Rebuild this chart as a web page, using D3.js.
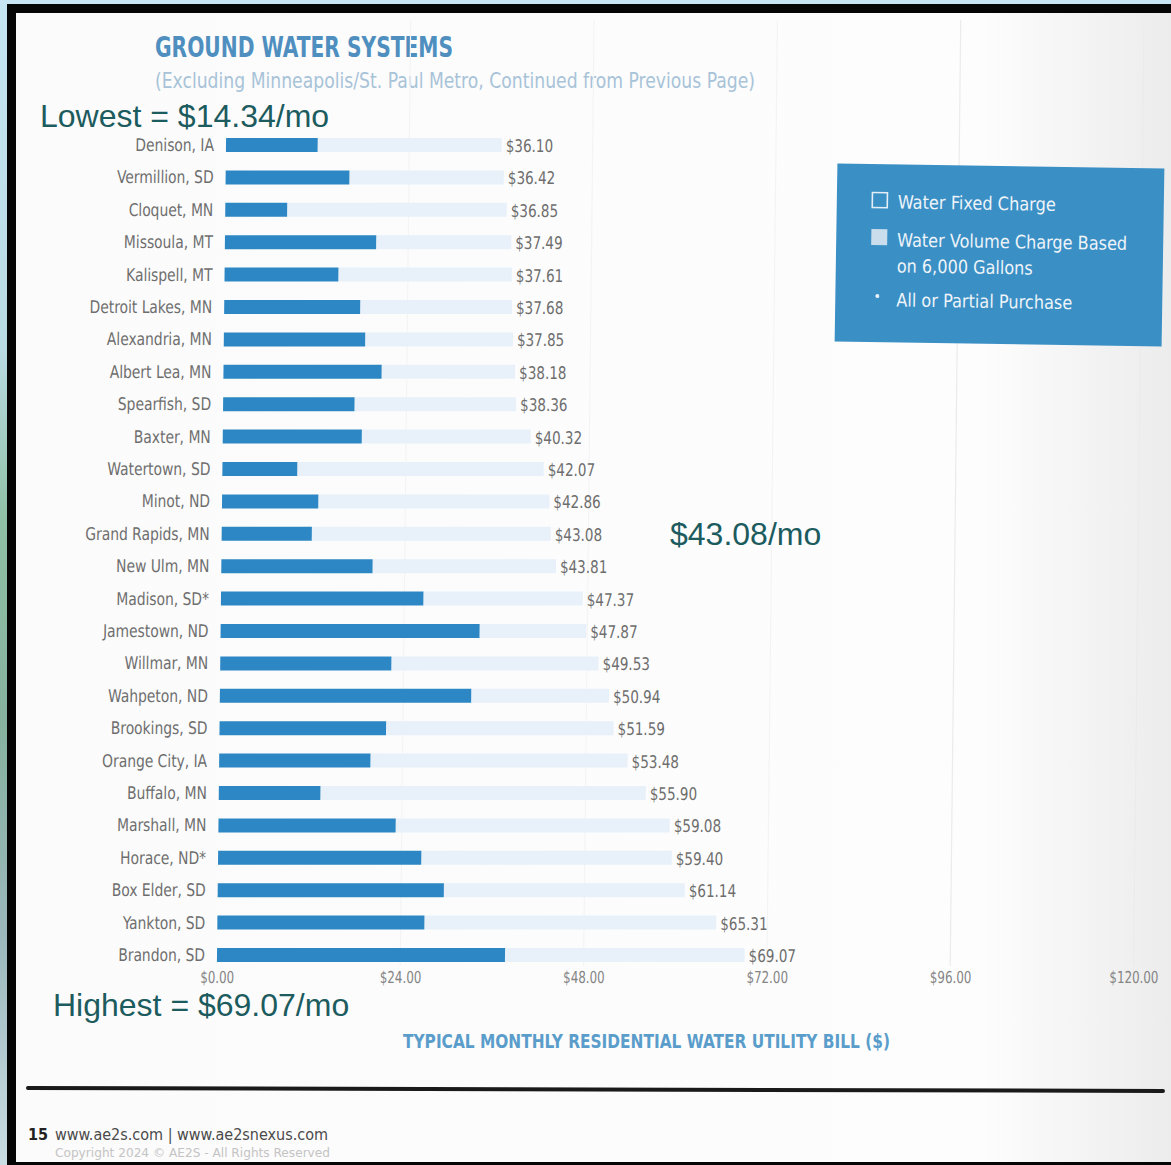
<!DOCTYPE html>
<html>
<head>
<meta charset="utf-8">
<script src="https://cdn.jsdelivr.net/npm/d3@7"></script>
<style>
  html, body { margin: 0; padding: 0; background: #ffffff; }
  svg { display: block; }
</style>
</head>
<body>
<svg id="chart" width="1171" height="1165"></svg>
<script>
// ---- data ---------------------------------------------------------------
const cities = [
  "Denison, IA", "Vermillion, SD", "Cloquet, MN", "Missoula, MT", "Kalispell, MT",
  "Detroit Lakes, MN", "Alexandria, MN", "Albert Lea, MN", "Spearfish, SD", "Baxter, MN",
  "Watertown, SD", "Minot, ND", "Grand Rapids, MN", "New Ulm, MN", "Madison, SD*",
  "Jamestown, ND", "Willmar, MN", "Wahpeton, ND", "Brookings, SD", "Orange City, IA",
  "Buffalo, MN", "Marshall, MN", "Horace, ND*", "Box Elder, SD", "Yankton, SD", "Brandon, SD"
];
// typical monthly bill (fixed + volume charge), $
const totalBill = [
  36.10, 36.42, 36.85, 37.49, 37.61, 37.68, 37.85, 38.18, 38.36, 40.32,
  42.07, 42.86, 43.08, 43.81, 47.37, 47.87, 49.53, 50.94, 51.59, 53.48,
  55.90, 59.08, 59.40, 61.14, 65.31, 69.07
];
// water fixed charge portion, $
const fixedCharge = [
  12.0, 16.2, 8.1, 19.8, 14.9, 17.8, 18.5, 20.7, 17.2, 18.2,
  9.8, 12.6, 11.8, 19.8, 26.5, 33.9, 22.4, 32.9, 21.8, 19.8,
  13.3, 23.2, 26.6, 29.6, 27.1, 37.7
];
const tickValues = [0, 24, 48, 72, 96, 120];
const legendItems = ["Water Fixed Charge", "Water Volume Charge Based", "on 6,000 Gallons", "All or Partial Purchase"];
const callouts = ["Lowest = $14.34/mo", "$43.08/mo", "Highest = $69.07/mo"];

// ---- styles -------------------------------------------------------------
const NARROW = "'Liberation Sans Narrow','Arial Narrow','DejaVu Sans Condensed',sans-serif";
const ARIAL = "'Liberation Sans',Arial,sans-serif";
const DARK_BAR = "#2c87c4";
const LIGHT_BAR = "#e8f1f9";

const svg = d3.select("#chart");
const defs = svg.append("defs");

// page shading
const pageGrad = defs.append("linearGradient").attr("id", "pageShade")
  .attr("x1", 0).attr("x2", 1).attr("y1", 0).attr("y2", 0);
pageGrad.append("stop").attr("offset", "0%").attr("stop-color", "#fbfbfb");
pageGrad.append("stop").attr("offset", "84%").attr("stop-color", "#fdfdfd");
pageGrad.append("stop").attr("offset", "100%").attr("stop-color", "#ececec");

const edgeGrad = defs.append("linearGradient").attr("id", "edgeShade")
  .attr("x1", 0).attr("x2", 0).attr("y1", 0).attr("y2", 1);
[["0%", "#c6e4f2"], ["30%", "#b9dbe3"], ["45%", "#8fbfa4"], ["62%", "#86b29f"],
 ["80%", "#9bb7bb"], ["100%", "#c9dde3"]].forEach(([o, c]) =>
  edgeGrad.append("stop").attr("offset", o).attr("stop-color", c));

svg.append("rect").attr("width", 1171).attr("height", 1165).attr("fill", "url(#pageShade)");

// frame around the page
svg.append("rect").attr("x", 0).attr("y", 0).attr("width", 8).attr("height", 1165).attr("fill", "url(#edgeShade)");
svg.append("rect").attr("x", 8).attr("y", 0).attr("width", 1163).attr("height", 4).attr("fill", "#c6e4f2");
svg.append("rect").attr("x", 7).attr("y", 4).attr("width", 9).attr("height", 1161).attr("fill", "#050505");
svg.append("rect").attr("x", 7).attr("y", 4).attr("width", 1164).attr("height", 9).attr("fill", "#050505");
svg.append("rect").attr("x", 7).attr("y", 1162).attr("width", 1164).attr("height", 3).attr("fill", "#050505");

// ---- titles -------------------------------------------------------------
svg.append("text").attr("x", 155).attr("y", 57)
  .attr("font-family", NARROW).attr("font-stretch", "condensed").attr("font-weight", "bold")
  .attr("font-size", 29).attr("fill", "#4f8fc0")
  .attr("textLength", 298).attr("lengthAdjust", "spacingAndGlyphs")
  .text("GROUND WATER SYSTEMS");

svg.append("text").attr("x", 155).attr("y", 88)
  .attr("font-family", NARROW).attr("font-stretch", "condensed")
  .attr("font-size", 21).attr("fill", "#a8c3d8")
  .attr("textLength", 600).attr("lengthAdjust", "spacingAndGlyphs")
  .text("(Excluding Minneapolis/St. Paul Metro, Continued from Previous Page)");

// ---- chart --------------------------------------------------------------
const x = d3.scaleLinear().domain([0, 120]).range([227.6, 1144.3]);
const y = d3.scalePoint().domain(cities).range([145, 955]);
const barH = 14;

// slight perspective lean of the printed plot
const plot = svg.append("g").attr("transform", "skewX(-0.636)");

// faint vertical grid
plot.append("g").selectAll("line").data(tickValues.slice(1)).join("line")
  .attr("x1", d => x(d)).attr("x2", d => x(d))
  .attr("y1", 20).attr("y2", 966)
  .attr("stroke", d => d >= 96 ? "#ebebeb" : "#f4f4f4").attr("stroke-width", 1.2);

const rows = plot.append("g").selectAll("g").data(cities).join("g")
  .attr("transform", d => `translate(0,${y(d)})`);

// volume charge (light) from end of fixed charge up to total
rows.append("rect")
  .attr("x", (d, i) => x(fixedCharge[i]))
  .attr("y", -barH / 2)
  .attr("width", (d, i) => x(totalBill[i]) - x(fixedCharge[i]))
  .attr("height", barH)
  .attr("fill", LIGHT_BAR);

// fixed charge (dark)
rows.append("rect")
  .attr("x", x(0))
  .attr("y", -barH / 2)
  .attr("width", (d, i) => x(fixedCharge[i]) - x(0))
  .attr("height", barH)
  .attr("fill", DARK_BAR);

// city labels
rows.append("text")
  .attr("transform", `translate(${x(0) - 12},6) scale(0.88,1)`)
  .attr("text-anchor", "end")
  .attr("font-family", NARROW).attr("font-stretch", "condensed")
  .attr("font-size", 17.5).attr("fill", "#6e6e6e")
  .text(d => d);

// total labels
rows.append("text")
  .attr("transform", (d, i) => `translate(${x(totalBill[i]) + 4},7) scale(0.86,1)`)
  .attr("font-family", NARROW).attr("font-stretch", "condensed")
  .attr("font-size", 17.5).attr("fill", "#6e6e6e")
  .text((d, i) => "$" + totalBill[i].toFixed(2));

// x axis tick labels
const xAxis = d3.axisBottom(x).tickValues(tickValues)
  .tickFormat(d => "$" + d3.format(".2f")(d)).tickSize(0).tickPadding(0);
const axisG = plot.append("g").attr("transform", "translate(0,968)").call(xAxis);
axisG.select(".domain").remove();
axisG.selectAll("text")
  .attr("font-family", NARROW).attr("font-stretch", "condensed")
  .attr("font-size", 16.5).attr("fill", "#858585").attr("dy", "0.9em")
  .attr("transform", "scale(0.8,1)");

// axis title
svg.append("text").attr("x", 403).attr("y", 1048)
  .attr("font-family", NARROW).attr("font-stretch", "condensed").attr("font-weight", "bold")
  .attr("font-size", 20).attr("fill", "#5a9dcb")
  .attr("textLength", 487).attr("lengthAdjust", "spacingAndGlyphs")
  .text("TYPICAL MONTHLY RESIDENTIAL WATER UTILITY BILL ($)");

// ---- legend -------------------------------------------------------------
const legend = svg.append("g").attr("transform", "rotate(0.9, 999, 255)");
legend.append("rect").attr("x", 836).attr("y", 166).attr("width", 327).attr("height", 178)
  .attr("fill", "#3a8fc5");
legend.append("rect").attr("x", 871.5).attr("y", 194.5).attr("width", 15).attr("height", 15)
  .attr("fill", "none").attr("stroke", "#e4eef6").attr("stroke-width", 1.6);
legend.append("rect").attr("x", 871).attr("y", 231).attr("width", 16).attr("height", 16)
  .attr("fill", "#c9dded");
legend.append("circle").attr("cx", 878).attr("cy", 298).attr("r", 2).attr("fill", "#e8f0f7");
const legendPos = [[897, 210, 158], [897, 248, 230], [897, 274, 136], [897, 308, 176]];
legend.selectAll("text.item").data(legendItems).join("text").attr("class", "item")
  .attr("x", (d, i) => legendPos[i][0]).attr("y", (d, i) => legendPos[i][1])
  .attr("textLength", (d, i) => legendPos[i][2]).attr("lengthAdjust", "spacingAndGlyphs")
  .attr("font-family", NARROW).attr("font-stretch", "condensed")
  .attr("font-size", 18.5).attr("fill", "#eef4f9")
  .text(d => d);

// ---- callouts -----------------------------------------------------------
const calloutPos = [[40, 127], [670, 545], [53, 1016]];
svg.selectAll("text.callout").data(callouts).join("text").attr("class", "callout")
  .attr("x", (d, i) => calloutPos[i][0]).attr("y", (d, i) => calloutPos[i][1])
  .attr("font-family", ARIAL).attr("font-size", 32).attr("fill", "#1c5b5e")
  .text(d => d);

// ---- footer -------------------------------------------------------------
svg.append("path").attr("d", "M28,1088 L1163,1091")
  .attr("stroke", "#1a1a1a").attr("stroke-width", 4).attr("stroke-linecap", "round");
svg.append("text").attr("x", 28).attr("y", 1140)
  .attr("font-family", NARROW).attr("font-weight", "bold").attr("font-size", 16).attr("fill", "#222")
  .text("15");
svg.append("text").attr("x", 55).attr("y", 1140)
  .attr("font-family", NARROW).attr("font-stretch", "condensed").attr("font-size", 16).attr("fill", "#4a4a4a")
  .attr("textLength", 273).attr("lengthAdjust", "spacingAndGlyphs")
  .text("www.ae2s.com  |  www.ae2snexus.com");
svg.append("text").attr("x", 55).attr("y", 1157)
  .attr("font-family", NARROW).attr("font-stretch", "condensed").attr("font-size", 12.5).attr("fill", "#c4c4c4")
  .attr("textLength", 275).attr("lengthAdjust", "spacingAndGlyphs")
  .text("Copyright 2024 © AE2S - All Rights Reserved");
</script>
</body>
</html>
